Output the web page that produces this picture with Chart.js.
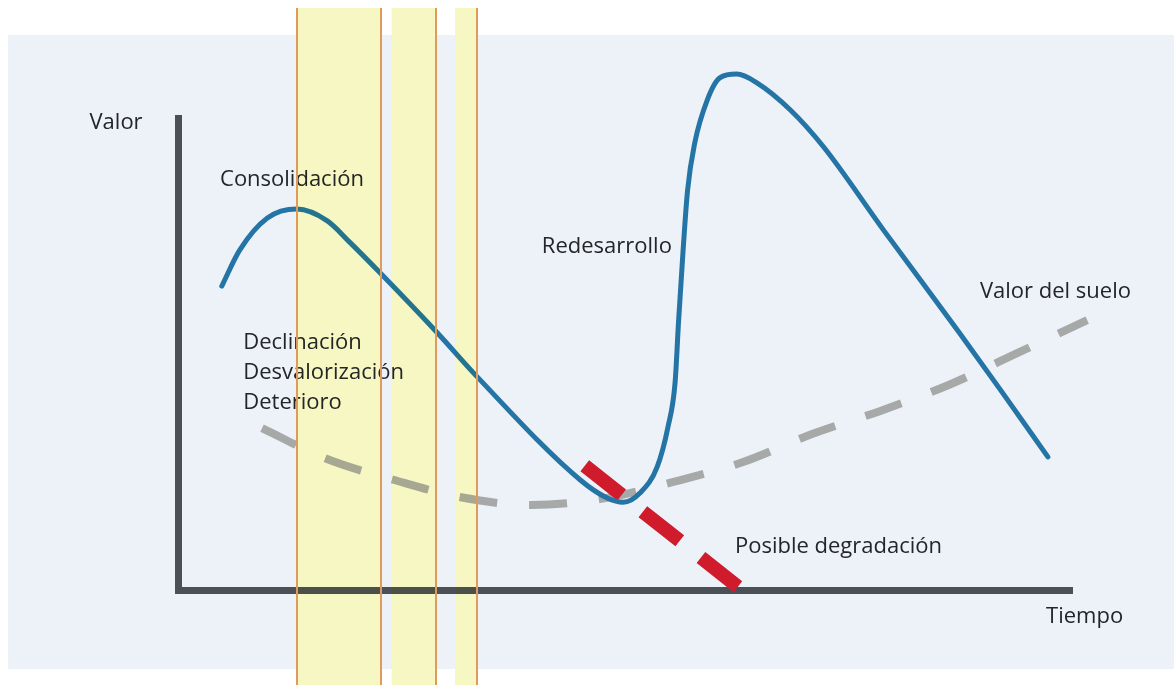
<!DOCTYPE html>
<html>
<head>
<meta charset="utf-8">
<script src="https://cdn.jsdelivr.net/npm/chart.js@4.4.0/dist/chart.umd.min.js"></script>
<style>
  html, body { margin: 0; padding: 0; background: #fff; }
  #grafico { display: block; }
</style>
</head>
<body>
<canvas id="grafico" width="1174" height="685"></canvas>
<script>
// curva del valor del inmueble (tiempo y valor en unidades del eje, 0-100)
var tiempoInmueble = [4.9, 6.9, 10.0, 13.3, 16.7, 19.2, 22.6, 29.0, 33.5, 45.0, 48.0, 49.8, 51.7, 53.6, 54.8, 55.6, 56.0, 56.5, 57.0, 57.8, 59.2, 60.6, 62.5, 64.8, 68.5, 72.2, 78.9, 87.4, 92.0, 97.3];
var valorInmueble = [64.4, 72.0, 78.8, 80.7, 78.2, 73.7, 67.2, 54.5, 45.1, 23.3, 19.5, 18.6, 20.6, 26.1, 34.5, 43.9, 57.2, 72.0, 84.7, 94.7, 103.8, 108.5, 109.3, 107.4, 101.7, 93.9, 76.3, 54.5, 42.4, 28.2];

// valor del suelo (linea gris a trazos)
var tiempoSuelo = [9.4, 16.6, 24.2, 31.5, 39.5, 47.3, 55.4, 63.2, 71.0, 78.8, 86.4, 94.1, 101.7];
var valorSuelo = [34.3, 27.8, 23.3, 19.7, 18.0, 19.3, 22.9, 27.1, 33.1, 38.1, 43.6, 50.4, 57.2];

// posible degradacion (linea roja)
var tiempoDegradacion = [45.5, 63.1];
var valorDegradacion = [26.3, 0];

// franjas amarillas (inicio, fin) y lineas naranjas
var franjas = [[13.3, 22.7], [23.9, 28.9], [31.0, 33.4]];
var lineasNaranja = [13.3, 22.7, 28.9, 33.4];

// etiquetas
var etiquetas = ['Valor', 'Consolidación', 'Redesarrollo', 'Valor del suelo', 'Declinación', 'Desvalorización', 'Deterioro', 'Posible degradación', 'Tiempo'];
var etiquetasX = [-9.9, 4.7, 40.7, 89.7, 7.3, 7.3, 7.3, 62.3, 97.1];
var etiquetasY = [98.9, 86.9, 72.7, 63.1, 52.3, 46.0, 39.6, 9.1, -5.7];

function puntos(xs, ys) {
    return xs.map(function(x, i) { return {x: x, y: ys[i]}; });
}

function pintarFranjas(chart, color) {
    var ctx = chart.ctx;
    var sx = chart.scales.x;
    ctx.fillStyle = color;
    franjas.forEach(function(f) {
        var a = sx.getPixelForValue(f[0]), b = sx.getPixelForValue(f[1]);
        ctx.fillRect(a, 8, b - a, chart.height - 8);
    });
}

var fondo = {
    id: 'fondo',
    beforeDraw: function(chart) {
        var ctx = chart.ctx;
        ctx.save();
        ctx.fillStyle = '#ffffff';
        ctx.fillRect(0, 0, chart.width, chart.height);
        ctx.fillStyle = '#edf1f8';
        ctx.fillRect(8, 35, chart.width - 8, 634);
        pintarFranjas(chart, '#f7f9e2');
        ctx.restore();
    },
    afterDatasetsDraw: function(chart) {
        var ctx = chart.ctx;
        var sx = chart.scales.x, sy = chart.scales.y;
        ctx.save();
        ctx.font = '22px "Open Sans"';
        ctx.fillStyle = '#232629';
        ctx.textAlign = 'left';
        ctx.textBaseline = 'middle';
        etiquetas.forEach(function(t, i) {
            ctx.fillText(t, sx.getPixelForValue(etiquetasX[i]), sy.getPixelForValue(etiquetasY[i]));
        });
        ctx.restore();
    },
    afterDraw: function(chart) {
        var ctx = chart.ctx;
        var sx = chart.scales.x;
        ctx.save();
        // filtro amarillo suave por encima de curva y textos
        ctx.globalCompositeOperation = 'multiply';
        pintarFranjas(chart, '#fffddc');
        ctx.globalCompositeOperation = 'source-over';
        ctx.strokeStyle = '#e09a5a';
        ctx.lineWidth = 2;
        lineasNaranja.forEach(function(v) {
            var x = Math.round(sx.getPixelForValue(v));
            ctx.beginPath();
            ctx.moveTo(x, 8);
            ctx.lineTo(x, chart.height);
            ctx.stroke();
        });
        ctx.restore();
    }
};

var ctx = document.getElementById('grafico');

var myChart = new Chart(ctx, {
    type: 'scatter',
    data: {
        datasets: [{
            label: 'Valor del inmueble',
            data: puntos(tiempoInmueble, valorInmueble),
            showLine: true,
            borderColor: '#2474a6',
            borderWidth: 5,
            pointRadius: 0,
            cubicInterpolationMode: 'monotone',
            borderCapStyle: 'round',
            borderJoinStyle: 'round',
            clip: false
        }, {
            label: 'Posible degradación',
            data: puntos(tiempoDegradacion, valorDegradacion),
            showLine: true,
            borderColor: '#cf1b2b',
            borderWidth: 14,
            borderDash: [47, 27],
            borderCapStyle: 'butt',
            pointRadius: 0,
            clip: false
        }, {
            label: 'Valor del suelo',
            data: puntos(tiempoSuelo, valorSuelo),
            showLine: true,
            borderColor: '#a7a9a9',
            borderWidth: 8,
            borderDash: [38, 32],
            borderCapStyle: 'butt',
            pointRadius: 0,
            cubicInterpolationMode: 'monotone',
            clip: false
        }]
    },
    options: {
        responsive: false,
        animation: false,
        devicePixelRatio: 1,
        layout: {
            padding: {left: 178, right: 102, top: 118, bottom: 95}
        },
        plugins: {
            legend: {display: false},
            tooltip: {enabled: false}
        },
        scales: {
            x: {
                type: 'linear',
                min: 0,
                max: 100,
                ticks: {display: false},
                grid: {display: false, drawTicks: false},
                border: {display: true, color: '#4b5056', width: 7}
            },
            y: {
                type: 'linear',
                min: 0,
                max: 100,
                ticks: {display: false},
                grid: {display: false, drawTicks: false},
                border: {display: true, color: '#4b5056', width: 7}
            }
        }
    },
    plugins: [fondo]
});
</script>
</body>
</html>
